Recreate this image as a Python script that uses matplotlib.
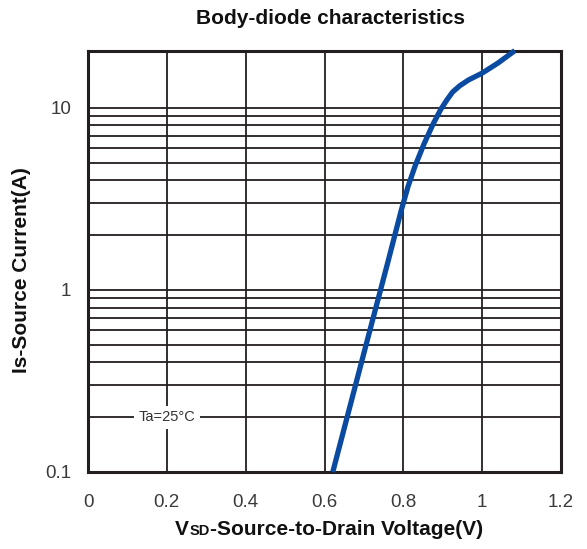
import matplotlib
matplotlib.use("Agg")
import matplotlib.pyplot as plt
import numpy as np
from matplotlib.ticker import FixedLocator, NullFormatter

plt.rcParams['font.family'] = ['Liberation Sans', 'DejaVu Sans']

# data
vsd = [0.621, 0.700, 0.760, 0.795, 0.812, 0.830, 0.852, 0.875, 0.895, 0.910,
       0.925, 0.943, 0.965, 1.000, 1.040, 1.083]
isd = [0.1, 0.45, 1.40, 2.75, 3.7, 4.8, 6.3, 8.1, 9.8, 11.0,
       12.2, 13.2, 14.2, 15.5, 17.6, 20.6]
x_ticks = [0, 0.2, 0.4, 0.6, 0.8, 1.0, 1.2]
x_labels = ['0', '0.2', '0.4', '0.6', '0.8', '1', '1.2']
y_major = [0.1, 1, 10]
y_labels = ['0.1', '1', '10']
y_minor = [0.2, 0.3, 0.4, 0.5, 0.6, 0.7, 0.8, 0.9, 2, 3, 4, 5, 6, 7, 8, 9]

W, H = 587, 549
fig = plt.figure(figsize=(W / 100, H / 100), dpi=100)
ax = fig.add_axes([88 / W, 1 - 472 / H, (561 - 88) / W, (472 - 51) / H])

gc = '#231f20'
ax.set_xlim(0, 1.2)
ax.set_yscale('log')
ax.set_ylim(0.1, 20.5)
ax.xaxis.set_major_locator(FixedLocator(x_ticks))
ax.set_xticklabels(x_labels)
ax.yaxis.set_major_locator(FixedLocator(y_major))
ax.yaxis.set_minor_locator(FixedLocator(y_minor))
ax.yaxis.set_minor_formatter(NullFormatter())
ax.set_yticklabels(y_labels)
ax.grid(True, which='both', color=gc, linewidth=1.3)
ax.set_axisbelow(True)
ax.tick_params(which='both', length=0)
ax.tick_params(axis='x', pad=16, labelsize=13.5, labelcolor='#3a3a3a')
ax.tick_params(axis='y', pad=12, labelsize=13.5, labelcolor='#3a3a3a')
for s in ax.spines.values():
    s.set_color(gc)
    s.set_linewidth(2.2)

ax.plot(vsd, isd, color='#0a4aa0', linewidth=3.8, solid_capstyle='butt',
        solid_joinstyle='round', clip_on=False, zorder=5)

ax.text(0.2, 0.2, 'Ta=25°C', ha='center', va='center', fontsize=10.5, color='#333333',
        bbox=dict(boxstyle='square,pad=0.3', fc='white', ec='none'), zorder=4)

fig.text(330 / W, 1 - 18 / H, 'Body-diode characteristics', ha='center', va='center',
         fontsize=15, fontweight='bold', color='#111111')
fig.text(22 / W, 1 - 270 / H, 'Is-Source Current(A)', ha='center', va='center', rotation=90,
         fontsize=15, fontweight='bold', color='#111111')

# x label with small "SD"
fig.canvas.draw()
r = fig.canvas.get_renderer()
parts = [('V', 15), ('SD', 10.5), ('-Source-to-Drain Voltage(V)', 15)]
base_y = 1 - 535 / H
texts = []
tot = 0
for s, fs in parts:
    t = fig.text(0, base_y, s, ha='left', va='baseline', fontsize=fs, fontweight='bold', color='#111111')
    w = t.get_window_extent(r).width
    texts.append((t, w))
    tot += w
x0 = 329 - tot / 2
for t, w in texts:
    t.set_x(x0 / W)
    x0 += w

fig.savefig('out.png', dpi=100)
